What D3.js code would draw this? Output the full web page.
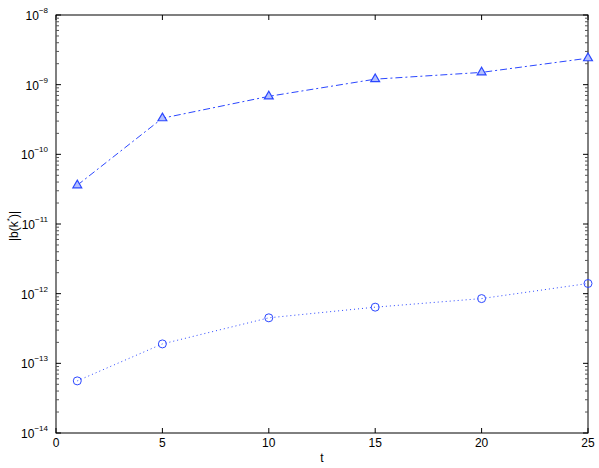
<!DOCTYPE html>
<html>
<head>
<meta charset="utf-8">
<script src="https://cdn.jsdelivr.net/npm/d3@7"></script>
<style>
  body { margin: 0; background: #fff; }
  text { font-family: "Liberation Sans", Arial, sans-serif; }
</style>
</head>
<body>
<script>
// data
const tValues = [1, 5, 10, 15, 20, 25];
const triangleSeries = [3.6e-11, 3.3e-10, 6.8e-10, 1.2e-9, 1.5e-9, 2.4e-9];
const circleSeries = [5.6e-14, 1.9e-13, 4.5e-13, 6.4e-13, 8.5e-13, 1.4e-12];
const xTicks = [0, 5, 10, 15, 20, 25];
const yDecades = [-14, -13, -12, -11, -10, -9, -8];

const margin = { top: 15, right: 11, bottom: 35, left: 56 };
const width = 599 - margin.left - margin.right;
const height = 468 - margin.top - margin.bottom;
const blue = '#2b47ff';

const svg = d3.select('body').append('svg')
  .attr('width', 599)
  .attr('height', 468);

const g = svg.append('g')
  .attr('transform', `translate(${margin.left},${margin.top})`);

const xscale = d3.scaleLinear().domain([0, 25]).range([0, width]);
const yscale = d3.scaleLog().domain([1e-14, 1e-8]).range([height, 0]);

// box
g.append('rect')
  .attr('width', width)
  .attr('height', height)
  .attr('fill', 'none')
  .attr('stroke', '#000')
  .attr('stroke-width', 1);

// x ticks, bottom and top, pointing inward
const tickLen = 5;
xTicks.forEach((t) => {
  const x = xscale(t);
  g.append('line').attr('x1', x).attr('x2', x).attr('y1', height).attr('y2', height - tickLen)
    .attr('stroke', '#000');
  g.append('line').attr('x1', x).attr('x2', x).attr('y1', 0).attr('y2', tickLen)
    .attr('stroke', '#000');
  g.append('text')
    .attr('x', x)
    .attr('y', height + 14)
    .attr('text-anchor', 'middle')
    .attr('font-size', 12)
    .text(t);
});

// y ticks: major decades and minor 2..9
yDecades.forEach((p, i) => {
  const y = yscale(Math.pow(10, p));
  [0, width].forEach((x0) => {
    const dir = x0 === 0 ? 1 : -1;
    g.append('line').attr('x1', x0).attr('x2', x0 + dir * tickLen).attr('y1', y).attr('y2', y)
      .attr('stroke', '#000');
  });
  const label = g.append('text')
    .attr('x', -8)
    .attr('y', y + 5)
    .attr('text-anchor', 'end')
    .attr('font-size', 12);
  label.append('tspan').text('10');
  label.append('tspan').attr('dy', -7).attr('font-size', 8).text(`\u2212${-p}`);
  if (i < yDecades.length - 1) {
    for (let m = 2; m <= 9; m += 1) {
      const ym = yscale(m * Math.pow(10, p));
      [0, width].forEach((x0) => {
        const dir = x0 === 0 ? 1 : -1;
        g.append('line').attr('x1', x0).attr('x2', x0 + dir * 3).attr('y1', ym).attr('y2', ym)
          .attr('stroke', '#555');
      });
    }
  }
});

// axis labels
g.append('text')
  .attr('x', width / 2)
  .attr('y', height + 29)
  .attr('text-anchor', 'middle')
  .attr('font-size', 12)
  .text('t');

const ylab = svg.append('text')
  .attr('transform', 'translate(18,226) rotate(-90)')
  .attr('text-anchor', 'middle')
  .attr('font-size', 12);
ylab.append('tspan').text('|b(k');
ylab.append('tspan').attr('dy', -6).attr('font-size', 8).text('*');
ylab.append('tspan').attr('dy', 6).text(')|');

const line = d3.line()
  .x((d, i) => xscale(tValues[i]))
  .y(d => yscale(d));

// triangle series, dash-dot
g.append('path')
  .datum(triangleSeries)
  .attr('d', line)
  .attr('fill', 'none')
  .attr('stroke', blue)
  .attr('stroke-width', 1)
  .attr('stroke-dasharray', '7,3,2,3');

const tri = d3.symbol().type(d3.symbolTriangle).size(34);
g.selectAll('.tri')
  .data(triangleSeries)
  .enter().append('path')
  .attr('class', 'tri')
  .attr('d', tri)
  .attr('transform', (d, i) => `translate(${xscale(tValues[i])},${yscale(d)})`)
  .attr('fill', '#b4c0ff')
  .attr('stroke', blue)
  .attr('stroke-width', 1.2);

// circle series, dotted
g.append('path')
  .datum(circleSeries)
  .attr('d', line)
  .attr('fill', 'none')
  .attr('stroke', blue)
  .attr('stroke-width', 1)
  .attr('stroke-dasharray', '1,3');

g.selectAll('.circ')
  .data(circleSeries)
  .enter().append('circle')
  .attr('class', 'circ')
  .attr('cx', (d, i) => xscale(tValues[i]))
  .attr('cy', d => yscale(d))
  .attr('r', 4)
  .attr('fill', 'none')
  .attr('stroke', blue)
  .attr('stroke-width', 1);
</script>
</body>
</html>
